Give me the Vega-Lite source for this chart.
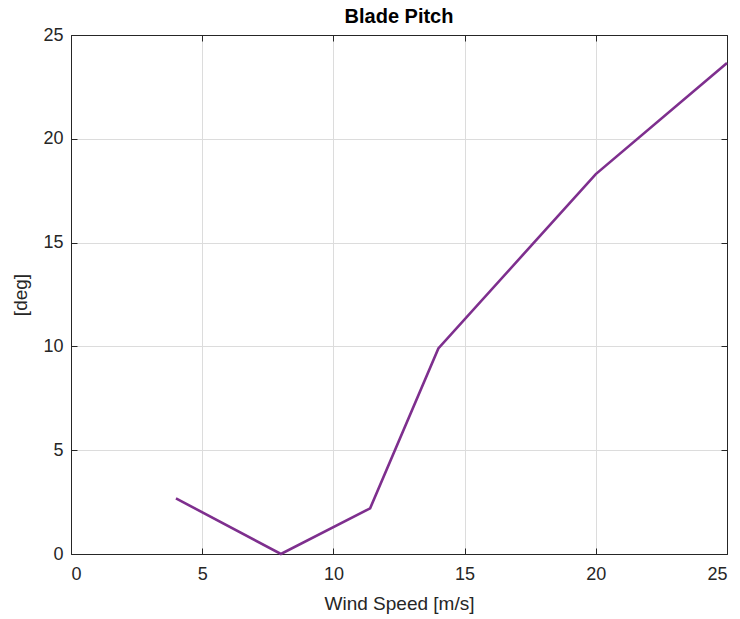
{
  "$schema": "https://vega.github.io/schema/vega-lite/v6.json",
  "width": 656,
  "height": 519,
  "autosize": {"type": "none"},
  "padding": {"left": 71, "top": 35, "right": 13, "bottom": 65},
  "background": "white",
  "title": {"text": "Blade Pitch", "font": "Liberation Sans", "fontSize": 20, "fontWeight": "bold", "color": "#000000", "offset": -1, "anchor": "middle"},
  "config": {
    "view": {"stroke": "#262626", "strokeWidth": 1},
    "axis": {
      "labelFont": "Liberation Sans", "labelFontSize": 18, "labelColor": "#262626",
      "titleFont": "Liberation Sans", "titleFontSize": 19, "titleColor": "#262626", "titleFontWeight": "normal",
      "domainColor": "#262626", "tickColor": "#262626", "tickSize": -6,
      "gridColor": "#dcdcdc", "gridWidth": 1
    }
  },
  "data": {"values": [
    {"wind": 4, "pitch": 2.68},
    {"wind": 8, "pitch": 0},
    {"wind": 11.4, "pitch": 2.2},
    {"wind": 14, "pitch": 9.9},
    {"wind": 20, "pitch": 18.3},
    {"wind": 25, "pitch": 23.65}
  ]},
  "layer": [
    {
      "mark": {"type": "line", "color": "#7E2F8E", "strokeWidth": 2.6},
      "encoding": {
        "x": {"field": "wind", "type": "quantitative", "scale": {"domain": [0, 25], "nice": false}, "axis": {"values": [0, 5, 10, 15, 20, 25], "title": "Wind Speed [m/s]", "labelPadding": 17, "titlePadding": 11}},
        "y": {"field": "pitch", "type": "quantitative", "scale": {"domain": [0, 25], "nice": false}, "axis": {"values": [0, 5, 10, 15, 20, 25], "title": "[deg]", "labelPadding": 14, "titlePadding": 12}}
      }
    },
    {
      "mark": {"type": "line", "opacity": 0},
      "encoding": {
        "x": {"field": "wind", "type": "quantitative", "scale": {"domain": [0, 25], "nice": false}, "axis": {"orient": "top", "values": [0, 5, 10, 15, 20, 25], "labels": false, "grid": false, "title": null}},
        "y": {"field": "pitch", "type": "quantitative", "scale": {"domain": [0, 25], "nice": false}, "axis": {"orient": "right", "values": [0, 5, 10, 15, 20, 25], "labels": false, "grid": false, "title": null}}
      }
    }
  ],
  "resolve": {"axis": {"x": "independent", "y": "independent"}}
}
